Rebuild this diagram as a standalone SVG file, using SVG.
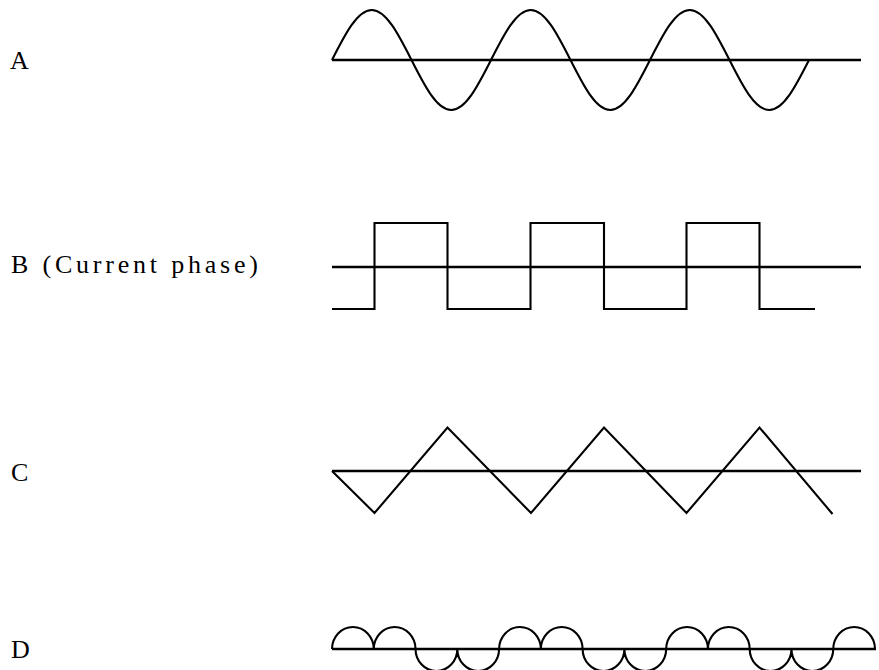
<svg xmlns="http://www.w3.org/2000/svg" width="879" height="670" viewBox="0 0 879 670">
<style>
.axis{stroke:#000;stroke-width:2.4;fill:none}
.wave{stroke:#000;stroke-width:2.1;fill:none;stroke-linejoin:miter}
.lbl{font-family:"Liberation Serif","Times New Roman",serif;font-size:26px;fill:#000}
</style>
<rect width="879" height="670" fill="#fff"/>
<g id="labels">
<text class="lbl" x="10" y="68.5">A</text>
<text class="lbl" x="11" y="273" textLength="247" lengthAdjust="spacing">B (Current phase)</text>
<text class="lbl" x="11" y="481">C</text>
<text class="lbl" x="11" y="658">D</text>
</g>
<g id="waveA">
<line class="axis" x1="332" y1="60" x2="861" y2="60"/>
<path class="wave" d="M332,60 c12.96,-25.61 25.36,-50 39.75,-50 c14.39,0 26.79,24.39 39.75,50 c12.96,25.61 25.36,50 39.75,50 c14.39,0 26.79,-24.39 39.75,-50 c12.96,-25.61 25.36,-50 39.75,-50 c14.39,0 26.79,24.39 39.75,50 c12.96,25.61 25.36,50 39.75,50 c14.39,0 26.79,-24.39 39.75,-50 c12.96,-25.61 25.36,-50 39.75,-50 c14.39,0 26.79,24.39 39.75,50 c12.96,25.61 25.36,50 39.75,50 c14.39,0 26.79,-24.39 39.75,-50"/>
</g>
<g id="waveB">
<line class="axis" x1="332" y1="267" x2="861" y2="267"/>
<path class="wave" d="M332,309 H374.5 V223 H447.5 V309 H530.5 V223 H604 V309 H686.5 V223 H759.5 V309 H815"/>
</g>
<g id="waveC">
<line class="axis" x1="332" y1="471" x2="861" y2="471"/>
<path class="wave" d="M332,471 L374.5,513 L447.5,427.5 L531,513 L604,427.5 L686.5,513 L759.5,427.5 L832.5,514"/>
</g>
<g id="waveD">
<line class="axis" x1="332" y1="649" x2="876" y2="649"/>
<path class="wave" d="M332,649 a20.885,22 0 0 1 41.77,0 a20.885,22 0 0 1 41.77,0 a20.885,22 0 0 0 41.77,0 a20.885,22 0 0 0 41.77,0 a20.885,22 0 0 1 41.77,0 a20.885,22 0 0 1 41.77,0 a20.885,22 0 0 0 41.77,0 a20.885,22 0 0 0 41.77,0 a20.885,22 0 0 1 41.77,0 a20.885,22 0 0 1 41.77,0 a20.885,22 0 0 0 41.77,0 a20.885,22 0 0 0 41.77,0 a20.885,22 0 0 1 41.77,0"/>
</g>
</svg>
